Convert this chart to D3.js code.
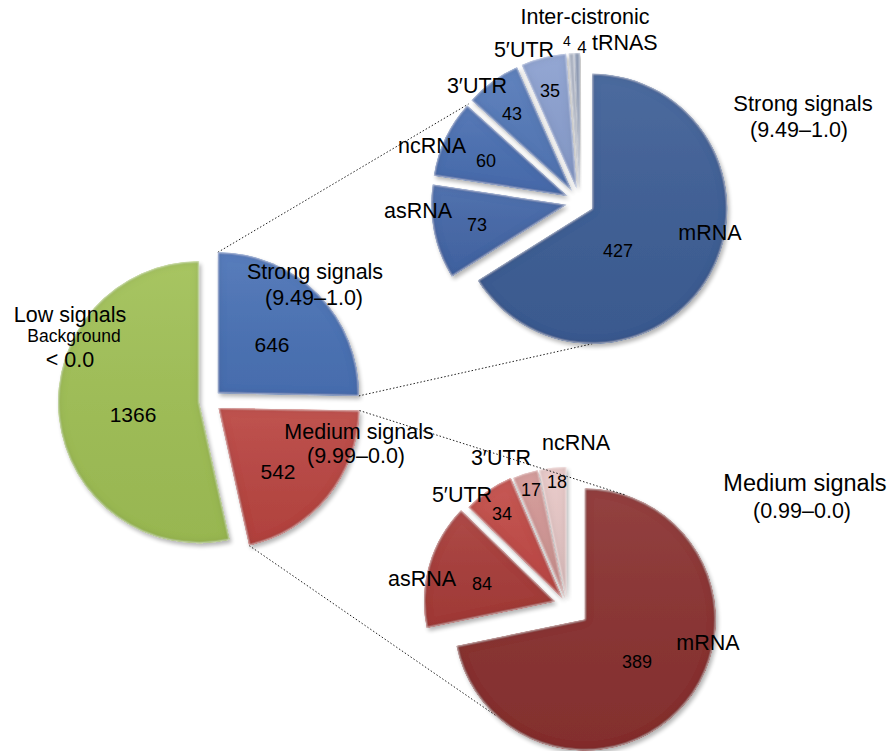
<!DOCTYPE html>
<html>
<head>
<meta charset="utf-8">
<script src="https://cdnjs.cloudflare.com/ajax/libs/d3/7.8.5/d3.min.js"></script>
<style>
  body { margin: 0; background: #fff; }
  text { font-family: "Liberation Sans", Arial, Helvetica, sans-serif; fill: #000; }
</style>
</head>
<body>
<svg id="chart" width="888" height="751"></svg>
<script>
// Overview: signal classes
const overviewLabels = ["Strong signals", "Medium signals", "Low signals"];
const overviewValues = [646, 542, 1366];

// Strong signals (9.49–1.0) breakdown by RNA class
const strongLabels = ["mRNA", "asRNA", "ncRNA", "3′UTR", "5′UTR", "Inter-cistronic", "tRNAS"];
const strongValues = [427, 73, 60, 43, 35, 4, 4];

// Medium signals (0.99–0.0) breakdown by RNA class
const mediumLabels = ["mRNA", "asRNA", "5′UTR", "3′UTR", "ncRNA"];
const mediumValues = [389, 84, 34, 17, 18];

const svg = d3.select("#chart");
svg.append("rect").attr("width", 888).attr("height", 751).attr("fill", "#fff");

// Soft bevel (light rim, darker inner band) plus drop shadow for every slice
const defs = svg.append("defs");
const f = defs.append("filter").attr("id", "bevel")
  .attr("x", "-20%").attr("y", "-20%").attr("width", "140%").attr("height", "140%");
f.append("feGaussianBlur").attr("in", "SourceAlpha").attr("stdDeviation", 1.1).attr("result", "b1");
f.append("feGaussianBlur").attr("in", "SourceAlpha").attr("stdDeviation", 4).attr("result", "b2");
f.append("feComposite").attr("in", "SourceAlpha").attr("in2", "b1").attr("operator", "arithmetic")
  .attr("k1", 0).attr("k2", 1).attr("k3", -1).attr("k4", 0).attr("result", "rimA");
f.append("feFlood").attr("flood-color", "#ffffff").attr("flood-opacity", 0.75).attr("result", "white");
f.append("feComposite").attr("in", "white").attr("in2", "rimA").attr("operator", "in").attr("result", "rim");
f.append("feComposite").attr("in", "b1").attr("in2", "b2").attr("operator", "arithmetic")
  .attr("k1", 0).attr("k2", 1).attr("k3", -1).attr("k4", 0).attr("result", "bandA");
f.append("feFlood").attr("flood-color", "#000000").attr("flood-opacity", 0.22).attr("result", "black");
f.append("feComposite").attr("in", "black").attr("in2", "bandA").attr("operator", "in").attr("result", "band0");
f.append("feComposite").attr("in", "band0").attr("in2", "SourceAlpha").attr("operator", "in").attr("result", "band");
f.append("feGaussianBlur").attr("in", "SourceAlpha").attr("stdDeviation", 2.2).attr("result", "sh");
f.append("feOffset").attr("in", "sh").attr("dx", 2).attr("dy", 3).attr("result", "shOff");
f.append("feComponentTransfer").attr("in", "shOff").attr("result", "shFade")
  .append("feFuncA").attr("type", "linear").attr("slope", 0.3);
const merge = f.append("feMerge");
merge.append("feMergeNode").attr("in", "shFade");
merge.append("feMergeNode").attr("in", "SourceGraphic");
merge.append("feMergeNode").attr("in", "band");
merge.append("feMergeNode").attr("in", "rim");

// gentle top-to-bottom sheen laid over each slice colour
const sheen = defs.append("linearGradient").attr("id", "sheen")
  .attr("x1", 0).attr("y1", 0).attr("x2", 0).attr("y2", 1);
sheen.append("stop").attr("offset", "0%").attr("stop-color", "#fff").attr("stop-opacity", 0.08);
sheen.append("stop").attr("offset", "100%").attr("stop-color", "#000").attr("stop-opacity", 0.05);

const pieLayout = d3.pie().sort(null).value(d => d).startAngle(0).endAngle(2 * Math.PI);

// Geometry and colours of the three pies
const pies = {
  overview: { cx: 210, cy: 401, r: 141, explode: [11, 11, 11],
              colors: ["#4a72b6", "#ba4541", "#a0c055"], values: overviewValues },
  strong:   { cx: 580, cy: 202, r: 135, explode: [14, 14, 14, 14, 14, 14, 14],
              colors: ["#3d5e96", "#4467a8", "#4a6fb2", "#5479b9", "#8ba0d0", "#b0b8ca", "#8e9dba"],
              values: strongValues },
  medium:   { cx: 567, cy: 605, r: 131, explode: [23, 12.5, 8, 7, 7],
              colors: ["#8a3130", "#a83c39", "#c24b47", "#d49896", "#e8c8c7"],
              values: mediumValues }
};

Object.values(pies).forEach(p => {
  p.arcs = pieLayout(p.values);
  p.arcGen = d3.arc().innerRadius(0).outerRadius(p.r);
  p.offset = p.arcs.map((a, i) => {
    const m = (a.startAngle + a.endAngle) / 2;
    return [p.explode[i] * Math.sin(m), -p.explode[i] * Math.cos(m)];
  });
});

// a point on the rim of slice i of pie p, at angle (radians, clockwise from 12 o'clock)
function rimPoint(p, i, ang) {
  return [p.cx + p.offset[i][0] + p.r * Math.sin(ang),
          p.cy + p.offset[i][1] - p.r * Math.cos(ang)];
}

// dotted connectors from the overview slices to their breakdowns
const ov = pies.overview, st = pies.strong, md = pies.medium;
const deg = Math.PI / 180;
const connectors = [
  [rimPoint(ov, 0, ov.arcs[0].startAngle), rimPoint(st, 2, 313 * deg), false],
  [rimPoint(ov, 0, ov.arcs[0].endAngle), rimPoint(st, 0, 180 * deg), false],
  [rimPoint(ov, 1, ov.arcs[1].startAngle), rimPoint(md, 0, 18 * deg), true],
  [rimPoint(ov, 1, ov.arcs[1].endAngle), rimPoint(md, 0, 223 * deg), false]
];
const connLayer = svg.append("g");
const pieLayer = svg.append("g");
const txt = svg.append("g");
const topLines = svg.append("g");

connectors.forEach(c => {
  (c[2] ? topLines : connLayer).append("line")
    .attr("x1", c[0][0]).attr("y1", c[0][1]).attr("x2", c[1][0]).attr("y2", c[1][1])
    .attr("stroke", "#222").attr("stroke-width", 1).attr("stroke-dasharray", "1.5,2");
});

Object.values(pies).forEach(p => {
  const g = pieLayer.append("g");
  const slices = g.selectAll("g").data(p.arcs).join("g")
    .attr("transform", (d, i) => `translate(${p.cx + p.offset[i][0]},${p.cy + p.offset[i][1]})`)
    .attr("filter", "url(#bevel)");
  slices.append("path").attr("d", p.arcGen).attr("fill", (d, i) => p.colors[i]);
  slices.append("path").attr("d", p.arcGen).attr("fill", "url(#sheen)");
});

function label(str, x, y, size, anchor) {
  txt.append("text").attr("x", x).attr("y", y)
    .attr("font-size", size).attr("text-anchor", anchor || "middle").text(str);
}

// overview labels
label(overviewLabels[2], 70, 322, 21.5);
label("Background", 74, 342, 17.5);
label("< 0.0", 70, 367, 21.5);
label(overviewValues[2], 133, 422, 21);
label(overviewLabels[0], 315, 279, 21.5);
label("(9.49–1.0)", 314, 305, 21.5);
label(overviewValues[0], 272, 352, 21);
label(overviewLabels[1], 359, 439, 21.5);
label("(9.99–0.0)", 356, 463, 21.5);
label(overviewValues[1], 278, 479, 21);

// strong-signal breakdown labels
const strongNamePos = [[710, 240], [418, 218], [432, 153], [477, 93], [524, 57], [585, 24], [592, 50]];
const strongValPos = [[618, 257], [477, 231], [486, 167], [512, 120], [550, 97], [567, 46], [582, 53]];
strongLabels.forEach((n, i) => {
  label(n, strongNamePos[i][0], strongNamePos[i][1], 21.5, i === 6 ? "start" : "middle");
  label(strongValues[i], strongValPos[i][0], strongValPos[i][1], i === 5 ? 14 : (i === 6 ? 17 : 18));
});
label(overviewLabels[0], 803, 111, 22);
label("(9.49–1.0)", 799, 137, 21.5);

// medium-signal breakdown labels
const mediumNamePos = [[708, 650], [422, 586], [462, 502], [501, 465], [576, 450]];
const mediumValPos = [[637, 668], [482, 590], [502, 520], [531, 496], [557, 488]];
mediumLabels.forEach((n, i) => {
  label(n, mediumNamePos[i][0], mediumNamePos[i][1], 21.5);
  label(mediumValues[i], mediumValPos[i][0], mediumValPos[i][1], 18);
});
label(overviewLabels[1], 805, 491, 23.5);
label("(0.99–0.0)", 802, 518, 21.5);
</script>
</body>
</html>
